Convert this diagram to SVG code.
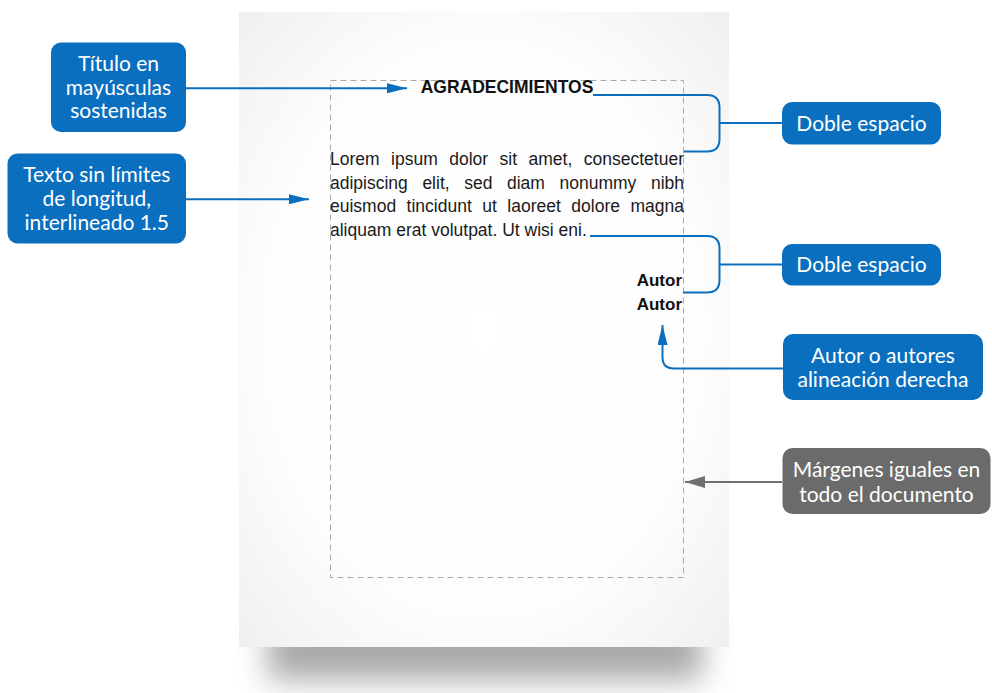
<svg xmlns="http://www.w3.org/2000/svg" width="992" height="693" viewBox="0 0 992 693">
  <defs>
    <radialGradient id="paper" cx="0.5" cy="0.5" r="0.75">
      <stop offset="0" stop-color="#ffffff"/>
      <stop offset="0.6" stop-color="#fdfdfd"/>
      <stop offset="1" stop-color="#ededed"/>
    </radialGradient>
    <filter id="soft" x="-30%" y="-80%" width="160%" height="260%">
      <feGaussianBlur stdDeviation="15"/>
    </filter>
    <marker id="headBlue" viewBox="0 0 20 10" refX="20" refY="5" markerWidth="20" markerHeight="10" markerUnits="userSpaceOnUse" orient="auto">
      <path d="M0,0 L20,5 L0,10 Z" fill="#0a6fbe"/>
    </marker>
    <marker id="headGray" viewBox="0 0 20 12" refX="20" refY="6" markerWidth="20" markerHeight="12" markerUnits="userSpaceOnUse" orient="auto">
      <path d="M0,0 L20,6 L0,12 Z" fill="#707070"/>
    </marker>
  </defs>
  <style>
    .box { fill: #0a6fbe; }
    .boxGray { fill: #6b6b6b; }
    .label { font-family: Lato, "Open Sans", sans-serif; font-size: 21px; fill: #ffffff; text-anchor: middle; }
    .body { font-family: "Liberation Sans", Arial, sans-serif; font-size: 17.5px; fill: #1a1a1a; }
    .bold { font-family: "Liberation Sans", Arial, sans-serif; font-weight: bold; fill: #111111; }
    .link { fill: none; stroke: #0a6fbe; stroke-width: 2; }
    .linkGray { fill: none; stroke: #707070; stroke-width: 2; }
  </style>

  <rect width="992" height="693" fill="#ffffff"/>

  <!-- sheet of paper with drop shadow -->
  <g id="page">
    <rect x="268" y="614" width="434" height="66" fill="#555555" opacity="0.5" filter="url(#soft)"/>
    <rect x="239" y="12" width="490" height="635" fill="url(#paper)"/>
    <rect x="330.5" y="80.5" width="353" height="497" fill="none" stroke="#aaaaaa" stroke-width="1" stroke-dasharray="6 4"/>
  </g>

  <!-- page contents -->
  <g id="content">
    <text class="bold" x="507" y="92.5" font-size="17.5" text-anchor="middle">AGRADECIMIENTOS</text>
    <text class="body" y="165">
      <tspan x="330">Lorem</tspan><tspan x="391.07">ipsum</tspan><tspan x="449.21">dolor</tspan><tspan x="499.58">sit</tspan><tspan x="528.55">amet,</tspan><tspan x="684" text-anchor="end">consectetuer</tspan>
    </text>
    <text class="body" y="188.7">
      <tspan x="330">adipiscing</tspan><tspan x="422.39">elit,</tspan><tspan x="464.2">sed</tspan><tspan x="506.99">diam</tspan><tspan x="559.49">nonummy</tspan><tspan x="684" text-anchor="end">nibh</tspan>
    </text>
    <text class="body" y="212.4">
      <tspan x="330">euismod</tspan><tspan x="406.62">tincidunt</tspan><tspan x="482.28">ut</tspan><tspan x="507.37">laoreet</tspan><tspan x="571.36">dolore</tspan><tspan x="684" text-anchor="end">magna</tspan>
    </text>
    <text class="body" x="330" y="236.1">aliquam erat volutpat. Ut wisi eni.</text>
    <text class="bold" x="682" y="286" font-size="17" text-anchor="end">Autor</text>
    <text class="bold" x="682" y="309.5" font-size="17" text-anchor="end">Autor</text>
  </g>

  <!-- connectors -->
  <g id="connectors">
    <path class="link" d="M186,88.3 H407" marker-end="url(#headBlue)"/>
    <path class="link" d="M186,199.3 H309" marker-end="url(#headBlue)"/>
    <path class="link" d="M593,95 H707 Q719.5,95 719.5,107.5 V139 Q719.5,151.5 707,151.5 H684"/>
    <path class="link" d="M719.5,123 H782"/>
    <path class="link" d="M590,236 H707 Q719.5,236 719.5,248.5 V280 Q719.5,292.5 707,292.5 H683"/>
    <path class="link" d="M719.5,264.5 H782"/>
    <path class="link" d="M783,368.5 H674 Q662.5,368.5 662.5,357 V325" marker-end="url(#headBlue)"/>
    <path class="linkGray" d="M782,482 H685" marker-end="url(#headGray)"/>
  </g>

  <g id="node-titulo">
    <rect class="box" x="51" y="42.5" width="135" height="89.5" rx="10"/>
    <text class="label" x="118.5" y="71">Título en</text>
    <text class="label" x="118.5" y="94.5">mayúsculas</text>
    <text class="label" x="118.5" y="118">sostenidas</text>
  </g>

  <g id="node-texto">
    <rect class="box" x="7.5" y="153.5" width="178.5" height="90" rx="10"/>
    <text class="label" x="96.8" y="182.3">Texto sin límites</text>
    <text class="label" x="96.8" y="206.3">de longitud,</text>
    <text class="label" x="96.8" y="230">interlineado 1.5</text>
  </g>

  <g id="node-doble-1">
    <rect class="box" x="782" y="102" width="159" height="42.5" rx="10"/>
    <text class="label" x="861.5" y="130.5">Doble espacio</text>
  </g>

  <g id="node-doble-2">
    <rect class="box" x="782" y="244" width="159" height="41.5" rx="10"/>
    <text class="label" x="861.5" y="271.5">Doble espacio</text>
  </g>

  <g id="node-autor">
    <rect class="box" x="783" y="334" width="200" height="66" rx="10"/>
    <text class="label" x="883" y="363">Autor o autores</text>
    <text class="label" x="883" y="386.5">alineación derecha</text>
  </g>

  <g id="node-margenes">
    <rect class="boxGray" x="782.5" y="448" width="208" height="66" rx="10"/>
    <text class="label" x="886.5" y="476.7">Márgenes iguales en</text>
    <text class="label" x="886.5" y="501.5">todo el documento</text>
  </g>
</svg>
